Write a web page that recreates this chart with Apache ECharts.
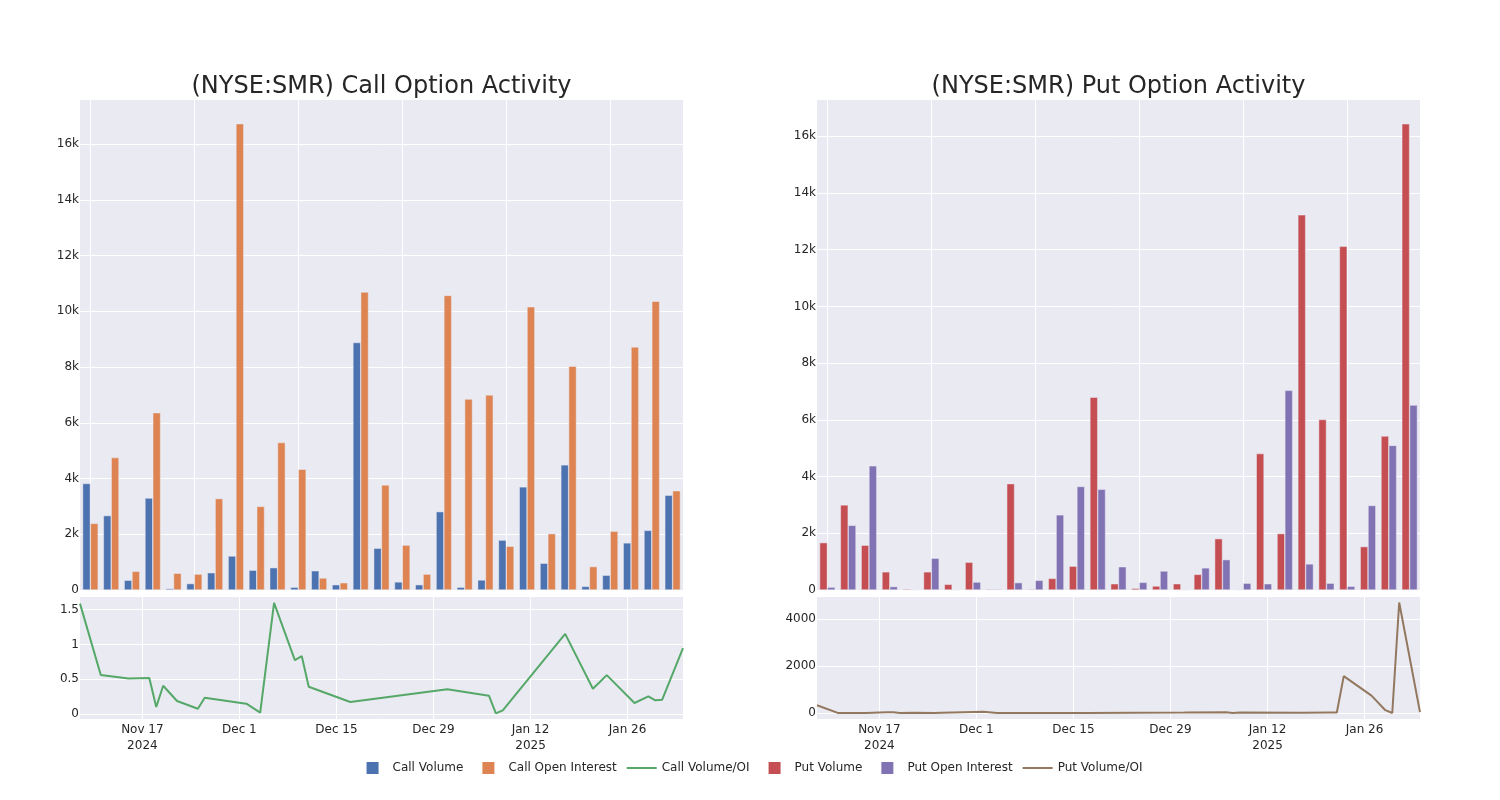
<!DOCTYPE html>
<html>
<head>
<meta charset="utf-8">
<script src="https://cdn.jsdelivr.net/npm/echarts@6/dist/echarts.min.js"></script>
<style>
html,body{margin:0;padding:0;background:#fff;}
#chart{width:1500px;height:800px;}
</style>
</head>
<body>
<div id="chart"></div>
<script>
const dates = ['2024-11-08','2024-11-11','2024-11-15','2024-11-18','2024-11-19','2024-11-20','2024-11-22','2024-11-25','2024-11-26','2024-12-02','2024-12-04','2024-12-06','2024-12-09','2024-12-10','2024-12-11','2024-12-17','2024-12-31','2025-01-06','2025-01-07','2025-01-08','2025-01-17','2025-01-21','2025-01-22','2025-01-23','2025-01-27','2025-01-29','2025-01-30','2025-01-31','2025-02-03'];
const callVolume = [3820,2670,350,3300,50,230,620,1220,710,800,100,690,190,8880,1500,290,190,2810,100,360,1790,3700,960,4490,130,530,1690,2140,3400];
const callOpenInterest = [2390,4750,670,6360,600,570,3280,16730,3000,5290,4330,430,260,10690,3770,1610,570,10570,6850,7000,1570,10160,2020,8030,840,2110,8720,10360,3560];
const callRatio = [1.586,0.559,0.511,0.516,0.10,0.406,0.186,0.076,0.234,0.148,0.019,1.596,0.774,0.831,0.392,0.172,0.354,0.263,0.01,0.053,1.151,0.363,0.46,0.559,0.158,0.253,0.196,0.205,0.946];
const putVolume = [1670,3000,1580,640,35,640,200,980,30,3750,30,410,840,6800,220,60,140,220,550,1810,10,4810,1990,13230,6010,12120,1530,5430,16440];
const putOpenInterest = [100,2280,4380,120,0,1120,0,280,30,260,340,2650,3650,3550,820,270,670,0,780,1070,240,220,7040,920,240,130,2980,5100,6520];
const putRatio = [330,5,5,30,35,5,10,5,15,55,5,5,5,5,5,5,20,30,0,25,10,20,20,1570,740,120,0,4700,40];
const dateTickLabels = {'2024-11-17':'Nov 17\n2024','2024-12-01':'Dec 1','2024-12-15':'Dec 15','2024-12-29':'Dec 29','2025-01-12':'Jan 12\n2025','2025-01-26':'Jan 26'};
const titles = ['(NYSE:SMR) Call Option Activity','(NYSE:SMR) Put Option Activity'];

const DAY = 86400000;
const REF = Date.UTC(2024,10,17);
function dayOffset(s){const p=s.split('-').map(Number);return Math.round((Date.UTC(p[0],p[1]-1,p[2])-REF)/DAY);}
function offsetToKey(d){const dt=new Date(REF+d*DAY);const m=String(dt.getUTCMonth()+1).padStart(2,'0');const dd=String(dt.getUTCDate()).padStart(2,'0');return dt.getUTCFullYear()+'-'+m+'-'+dd;}
const xDays = dates.map(dayOffset);
const xMin = xDays[0], xMax = xDays[xDays.length-1];

const FONT = 'DejaVu Sans';
const TXT = '#262626';
const BG = '#eaeaf2';
const fmtK = v => v===0 ? '0' : (v/1000)+'k';
const fmtPlain = v => String(v);

function grid(left, top, height){return {left:left, top:top, width:603, height:height, show:true, backgroundColor:BG, borderWidth:0, containLabel:false};}
function catAxis(gi){return {type:'category', gridIndex:gi, data:dates, boundaryGap:true, axisLine:{show:false}, axisTick:{show:false}, axisLabel:{show:false}, splitLine:{show:false}};}
function helperAxis(gi){return {type:'value', gridIndex:gi, min:-0.5, max:dates.length-0.5, minInterval:5, maxInterval:5, position:'bottom', axisLine:{show:false}, axisTick:{show:false}, axisLabel:{show:false}, splitLine:{show:true, showMinLine:false, showMaxLine:false, lineStyle:{color:'#fff', width:1}}};}
function dayAxis(gi){return {type:'value', gridIndex:gi, min:xMin, max:xMax, minInterval:14, maxInterval:14, axisLine:{show:false}, axisTick:{show:false},
  axisLabel:{showMinLabel:false, showMaxLabel:false, color:TXT, fontFamily:FONT, fontSize:12, lineHeight:16, margin:3, formatter:v=>dateTickLabels[offsetToKey(v)]||''},
  splitLine:{show:true, showMinLine:false, showMaxLine:false, lineStyle:{color:'#fff', width:1}}};}
function yAxis(gi, min, max, opts){return Object.assign({type:'value', gridIndex:gi, min:min, max:max, axisLine:{show:false}, axisTick:{show:false},
  axisLabel:{showMinLabel:false, showMaxLabel:false, color:TXT, fontFamily:FONT, fontSize:12, margin:1, padding:[4,0,0,0], formatter:fmtPlain},
  splitLine:{show:true, showMinLine:false, showMaxLine:false, lineStyle:{color:'#fff', width:1}}}, opts);}

const leftY = yAxis(0, 0, 17580, {interval:2000}); leftY.axisLabel.formatter = fmtK; leftY.axisLabel.showMinLabel = true;
const rightY = yAxis(2, 0, 17280, {interval:2000}); rightY.axisLabel.formatter = fmtK; rightY.axisLabel.showMinLabel = true;
const callLineY = yAxis(1, -0.072, 1.681, {minInterval:0.5, maxInterval:0.5});
const putLineY = yAxis(3, -255, 4936, {minInterval:2000, maxInterval:2000});

const sqIcon = 'path://M0,0 L0.01,0 M30,12 L30.01,12 M9,0 H21 V12 H9 Z';
const lnIcon = 'path://M0,0 L0.01,0 M30,12 L30.01,12 M0,5 H30 V7 H0 Z';

function bar(name, data, color, xi, yi){return {name:name, type:'bar', xAxisIndex:xi, yAxisIndex:yi, data:data, barGap:'0%', barCategoryGap:'25%', itemStyle:{color:color, borderColor:BG, borderWidth:0.5}};}
function line(name, data, color, xi, yi){return {name:name, type:'line', xAxisIndex:xi, yAxisIndex:yi, data:xDays.map((d,i)=>[d,data[i]]), showSymbol:false, symbol:'none', lineStyle:{color:color, width:2}, itemStyle:{color:color}};}

const option = {
  animation:false,
  backgroundColor:'#fff',
  textStyle:{fontFamily:FONT},
  title:[
    {text:titles[0], left:381.5, top:75, textAlign:'center', padding:0, textStyle:{fontFamily:FONT, fontSize:24, fontWeight:'normal', color:TXT}},
    {text:titles[1], left:1118.5, top:75, textAlign:'center', padding:0, textStyle:{fontFamily:FONT, fontSize:24, fontWeight:'normal', color:TXT}}
  ],
  legend:{
    left:'center', top:762, padding:0, itemWidth:30, itemHeight:12, itemGap:10,
    itemStyle:{borderWidth:0},
    textStyle:{color:TXT, fontFamily:FONT, fontSize:12},
    data:[
      {name:'Call Volume', icon:sqIcon},
      {name:'Call Open Interest', icon:sqIcon},
      {name:'Call Volume/OI', icon:lnIcon},
      {name:'Put Volume', icon:sqIcon},
      {name:'Put Open Interest', icon:sqIcon},
      {name:'Put Volume/OI', icon:lnIcon}
    ]
  },
  grid:[grid(80,100,490), grid(80,597,122), grid(817,100,490), grid(817,597,122)],
  xAxis:[catAxis(0), helperAxis(0), dayAxis(1), catAxis(2), helperAxis(2), dayAxis(3)],
  yAxis:[leftY, callLineY, rightY, putLineY],
  series:[
    bar('Call Volume', callVolume, '#4c72b0', 0, 0),
    bar('Call Open Interest', callOpenInterest, '#dd8452', 0, 0),
    line('Call Volume/OI', callRatio, '#55a868', 2, 1),
    bar('Put Volume', putVolume, '#c44e52', 3, 2),
    bar('Put Open Interest', putOpenInterest, '#8172b3', 3, 2),
    line('Put Volume/OI', putRatio, '#937860', 5, 3)
  ]
};
const chart = echarts.init(document.getElementById('chart'), null, {renderer:'canvas'});
chart.setOption(option);
</script>
</body>
</html>
